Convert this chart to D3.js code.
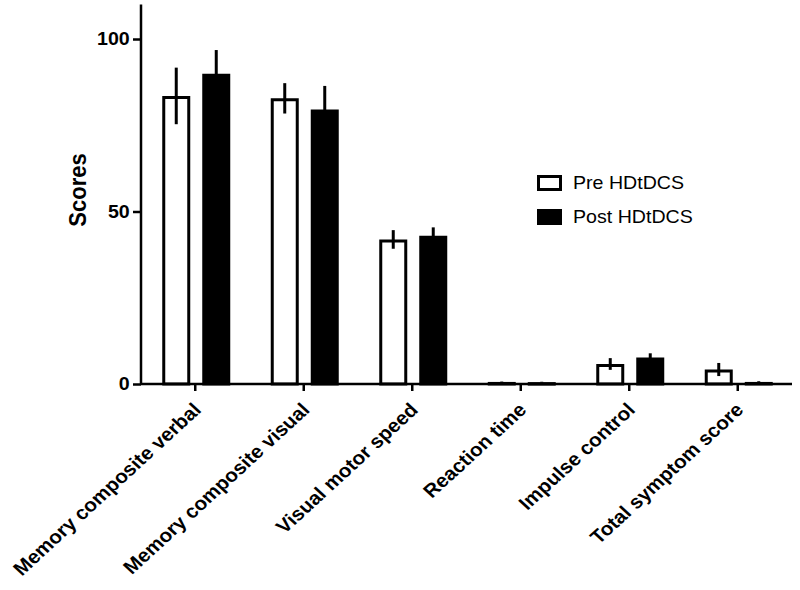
<!DOCTYPE html>
<html>
<head>
<meta charset="utf-8">
<script src="https://cdn.jsdelivr.net/npm/d3@7"></script>
<style>
  body { margin: 0; background: #fff; }
  text { font-family: "Liberation Sans", Arial, sans-serif; fill: #000; }
</style>
</head>
<body>
<div id="chart"></div>
<script>
// data
const categories = ["Memory composite verbal", "Memory composite visual", "Visual motor speed",
                    "Reaction time", "Impulse control", "Total symptom score"];
const series = ["Pre HDtDCS", "Post HDtDCS"];
const preMean = [83.5, 82.8, 41.9, 0.6, 5.8, 4.2];
const preSD = [8.2, 4.4, 2.7, 0.1, 1.7, 1.9];
const postMean = [89.9, 79.6, 43.0, 0.55, 7.7, 0.6];
const postSD = [6.9, 6.8, 2.4, 0.1, 1.2, 0.2];
const yTicks = [0, 50, 100];

// the source image is stretched a bit horizontally, so draw in a narrower box and stretch
const SX = 1.09;
const width = 800, height = 590;
const innerW = width / SX;

const svg = d3.select("#chart").append("svg")
    .attr("width", width)
    .attr("height", height)
    .attr("viewBox", `0 0 ${innerW} ${height}`)
    .attr("preserveAspectRatio", "none")
    .style("display", "block");

const x0 = d3.scaleBand()
    .domain(categories)
    .range([141 / SX, 792 / SX])
    .padding(0);

const x1 = d3.scaleBand()
    .domain(series)
    .range([-33 / SX, 35 / SX])
    .paddingInner(0.3)
    .paddingOuter(0);

const y = d3.scaleLinear()
    .domain([0, 110])
    .range([384, 384 - 110 * 3.45]);

const rows = categories.map((c, i) => ({
    cat: c,
    vals: [
        { s: series[0], m: preMean[i], sd: preSD[i] },
        { s: series[1], m: postMean[i], sd: postSD[i] }
    ]
}));

const groups = svg.append("g")
    .selectAll("g")
    .data(rows)
    .join("g")
    .attr("transform", d => `translate(${x0(d.cat) + x0.bandwidth() / 2},0)`);

const sw = 3;
groups.selectAll("rect")
    .data(d => d.vals)
    .join("rect")
    .attr("x", d => x1(d.s) + sw / 2 / SX)
    .attr("width", x1.bandwidth() - sw / SX)
    .attr("y", d => y(d.m) + sw / 2)
    .attr("height", d => Math.max(0.5, y(0) - y(d.m) - sw / 2))
    .attr("fill", d => d.s === series[0] ? "#fff" : "#000")
    .attr("stroke", "#000")
    .attr("stroke-width", sw)
    .attr("vector-effect", "non-scaling-stroke");

groups.selectAll("line.err")
    .data(d => d.vals)
    .join("line")
    .attr("class", "err")
    .attr("x1", d => x1(d.s) + x1.bandwidth() / 2)
    .attr("x2", d => x1(d.s) + x1.bandwidth() / 2)
    .attr("y1", d => y(Math.max(0, d.m - d.sd)))
    .attr("y2", d => y(d.m + d.sd))
    .attr("stroke", "#000")
    .attr("stroke-width", 3)
    .attr("vector-effect", "non-scaling-stroke");

// y axis
const yAxis = svg.append("g")
    .attr("transform", `translate(${141 / SX},0)`)
    .call(d3.axisLeft(y).tickValues(yTicks).tickSize(8 / SX).tickSizeOuter(0).tickPadding(3));
yAxis.select(".domain").remove();
yAxis.append("line")
    .attr("x1", 0).attr("x2", 0)
    .attr("y1", y(110)).attr("y2", y(0))
    .attr("stroke", "#000").attr("stroke-width", 2.5)
    .attr("vector-effect", "non-scaling-stroke");
yAxis.selectAll(".tick line")
    .attr("stroke-width", 2.5)
    .attr("vector-effect", "non-scaling-stroke");
yAxis.selectAll(".tick text")
    .style("font-size", "18px")
    .style("font-weight", "bold")
    .style("font-family", "'Liberation Sans', Arial, sans-serif");

// x axis
const xAxis = svg.append("g")
    .attr("transform", `translate(0,${y(0)})`)
    .call(d3.axisBottom(x0).tickSize(7).tickSizeOuter(0).tickFormat(""));
xAxis.select(".domain").remove();
xAxis.append("line")
    .attr("x1", 141 / SX).attr("x2", 792 / SX)
    .attr("y1", 0).attr("y2", 0)
    .attr("stroke", "#000").attr("stroke-width", 2.5)
    .attr("vector-effect", "non-scaling-stroke");
xAxis.selectAll(".tick line")
    .attr("stroke-width", 2.5)
    .attr("vector-effect", "non-scaling-stroke");

svg.append("g")
    .selectAll("text")
    .data(categories)
    .join("text")
    .attr("transform", d => `translate(${x0(d) + x0.bandwidth() / 2 + 7 / SX},${y(0) + 27}) rotate(-45)`)
    .attr("text-anchor", "end")
    .style("font-size", "19px")
    .style("font-weight", "bold")
    .text(d => d);

// y label
svg.append("text")
    .attr("transform", `translate(${86 / SX},190) rotate(-90)`)
    .attr("text-anchor", "middle")
    .style("font-size", "22px")
    .style("font-weight", "bold")
    .text("Scores");

// legend
const legend = svg.append("g")
    .attr("transform", `translate(${537 / SX},175)`);

const li = legend.selectAll("g")
    .data(series)
    .join("g")
    .attr("transform", (d, i) => `translate(0,${i * 34})`);

li.append("rect")
    .attr("x", 1.5 / SX)
    .attr("y", 1.5)
    .attr("width", 22 / SX)
    .attr("height", 13)
    .attr("fill", (d, i) => i === 0 ? "#fff" : "#000")
    .attr("stroke", "#000")
    .attr("stroke-width", 3)
    .attr("vector-effect", "non-scaling-stroke");

li.append("text")
    .attr("x", 36 / SX)
    .attr("y", 14)
    .style("font-size", "18px")
    .text(d => d);
</script>
</body>
</html>
